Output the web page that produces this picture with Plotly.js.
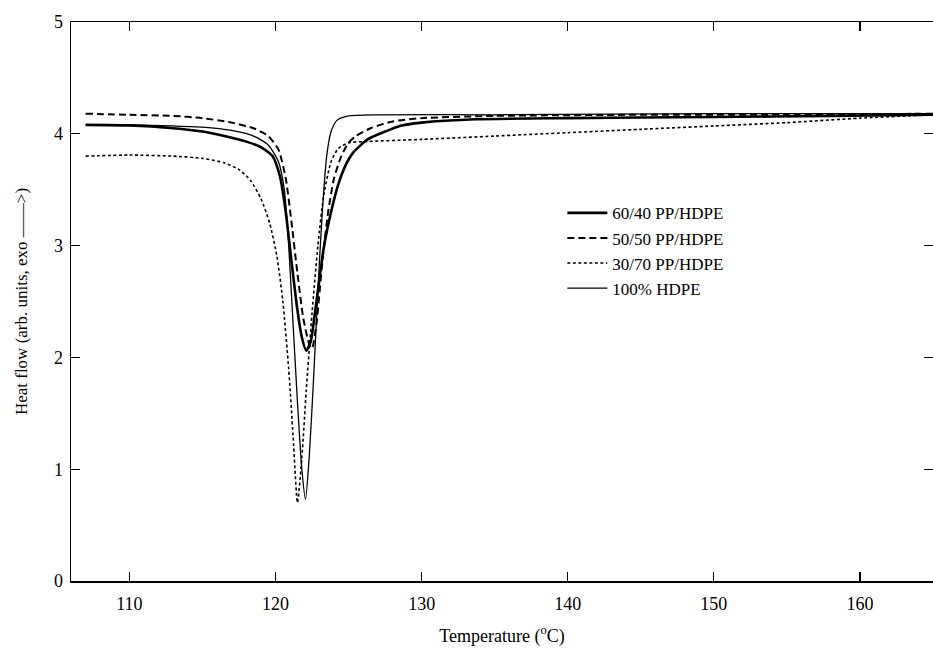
<!DOCTYPE html>
<html>
<head>
<meta charset="utf-8">
<script src="https://cdn.plot.ly/plotly-3.0.1.min.js"></script>
<style>html,body{margin:0;padding:0;background:#fff;}#chart{width:933px;height:653px;}</style>
</head>
<body>
<div id="chart"></div>
<script>
// Series names
const seriesNames = ["60/40 PP/HDPE", "50/50 PP/HDPE", "30/70 PP/HDPE", "100% HDPE"];

// 60/40 PP/HDPE (thick solid)
const t6040 = [107, 110, 113, 115, 116.5, 118, 119, 119.8, 120.3, 120.7, 121.1, 121.5, 121.8, 122.1, 122.4, 122.8, 123.3, 123.8, 124.3, 124.8, 125.3, 126.3, 127.5, 128.5, 130, 133.7, 140, 150, 158, 165];
const h6040 = [4.08, 4.075, 4.05, 4.02, 3.98, 3.93, 3.88, 3.8, 3.62, 3.3, 2.85, 2.42, 2.18, 2.06, 2.14, 2.5, 2.98, 3.3, 3.55, 3.72, 3.83, 3.95, 4.02, 4.07, 4.1, 4.13, 4.14, 4.15, 4.16, 4.17];

// 50/50 PP/HDPE (long dashed)
const t5050 = [107, 110, 113, 115, 117, 118.5, 119.5, 120.2, 120.7, 121.1, 121.5, 121.9, 122.3, 122.5, 122.8, 123.2, 123.6, 124, 124.5, 125, 125.5, 126.5, 128, 130, 135, 145, 155, 165];
const h5050 = [4.18, 4.17, 4.16, 4.14, 4.1, 4.05, 3.98, 3.86, 3.6, 3.2, 2.75, 2.35, 2.12, 2.08, 2.3, 2.85, 3.3, 3.6, 3.8, 3.92, 3.98, 4.05, 4.11, 4.14, 4.16, 4.17, 4.17, 4.18];

// 30/70 PP/HDPE (short dashed)
const t3070 = [107, 110, 113, 115, 116.5, 117.5, 118.3, 119, 119.6, 120.1, 120.5, 120.9, 121.2, 121.5, 121.8, 122.1, 122.5, 122.9, 123.3, 123.8, 124.3, 125, 126, 130, 135, 140, 145, 150, 155, 160, 165];
const h3070 = [3.8, 3.81, 3.8, 3.78, 3.74, 3.68, 3.58, 3.42, 3.2, 2.9, 2.5, 1.9, 1.3, 0.7, 1.1, 1.7, 2.4, 3.0, 3.45, 3.75, 3.87, 3.92, 3.93, 3.95, 3.98, 4.01, 4.04, 4.07, 4.1, 4.14, 4.17];

// 100% HDPE (thin solid)
const t100 = [107, 110, 113, 115, 117, 118.5, 119.5, 120.2, 120.6, 120.9, 121.2, 121.5, 121.8, 122.05, 122.3, 122.6, 122.9, 123.2, 123.5, 123.8, 124.2, 125, 127, 135, 150, 165];
const h100 = [4.08, 4.08, 4.07, 4.06, 4.03, 3.98, 3.9, 3.75, 3.5, 3.0, 2.3, 1.6, 1.0, 0.73, 1.1, 1.8, 2.6, 3.3, 3.8, 4.02, 4.12, 4.16, 4.17, 4.17, 4.18, 4.18];

// Axis ticks
const xTicks = [110, 120, 130, 140, 150, 160];
const yTicks = [0, 1, 2, 3, 4, 5];

const traces = [
  {x: t6040, y: h6040, name: seriesNames[0], mode: 'lines', line: {color: '#000', width: 2.6, shape: 'spline', smoothing: 0.6}},
  {x: t5050, y: h5050, name: seriesNames[1], mode: 'lines', line: {color: '#000', width: 2, dash: '7px,4px', shape: 'spline', smoothing: 0.6}},
  {x: t3070, y: h3070, name: seriesNames[2], mode: 'lines', line: {color: '#000', width: 1.6, dash: '3px,2.5px', shape: 'spline', smoothing: 0.6}},
  {x: t100, y: h100, name: seriesNames[3], mode: 'lines', line: {color: '#000', width: 1.3, shape: 'spline', smoothing: 0.6}}
];

const font = {family: '"Liberation Serif", "Times New Roman", serif', color: '#000'};

const layout = {
  width: 933, height: 653,
  margin: {l: 71, r: 0, t: 22, b: 72},
  paper_bgcolor: '#fff', plot_bgcolor: '#fff',
  showlegend: true,
  legend: {
    x: 0.57, y: 0.69, xanchor: 'left', yanchor: 'top',
    bgcolor: 'rgba(0,0,0,0)', borderwidth: 0,
    font: Object.assign({size: 17}, font),
    tracegroupgap: 0, itemwidth: 40
  },
  xaxis: {
    range: [106, 165], tickvals: xTicks, ticktext: xTicks.map(String),
    ticks: 'inside', ticklen: 9, tickwidth: 1.2, tickcolor: '#000',
    showline: true, linecolor: '#000', linewidth: 1.5, mirror: 'ticks',
    showgrid: false, zeroline: false, ticklabelstandoff: 6,
    tickfont: Object.assign({size: 18}, font),
    title: {text: 'Temperature (<sup>o</sup>C)', font: Object.assign({size: 18}, font), standoff: 16}
  },
  yaxis: {
    range: [0, 5], tickvals: yTicks, ticktext: yTicks.map(String),
    ticks: 'inside', ticklen: 9, tickwidth: 1.2, tickcolor: '#000',
    showline: true, linecolor: '#000', linewidth: 1.5, mirror: 'ticks',
    showgrid: false, zeroline: false, ticklabelstandoff: 3,
    tickfont: Object.assign({size: 18}, font),
    title: {text: 'Heat flow (arb. units, exo \u2013\u2013\u2013\u2013>)', font: Object.assign({size: 17}, font), standoff: 22}
  }
};

Plotly.newPlot('chart', traces, layout, {displayModeBar: false, staticPlot: true});
</script>
</body>
</html>
